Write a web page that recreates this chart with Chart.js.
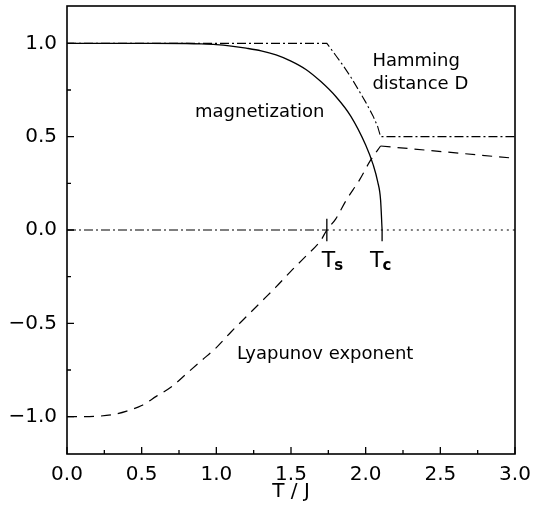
<!DOCTYPE html>
<html>
<head>
<meta charset="utf-8">
<script src="https://cdn.jsdelivr.net/npm/chart.js@4"></script>
<style>
html,body{margin:0;padding:0;background:#fff;}
#wrap{width:539px;height:510px;position:relative;}
</style>
</head>
<body>
<div id="wrap"><canvas id="c"></canvas></div>
<script>
// ---- data ----
const magT = [0, 0.5, 0.8, 0.9, 1.0, 1.1, 1.2, 1.3, 1.4, 1.5, 1.6, 1.7, 1.8, 1.9, 2.0, 2.05, 2.08, 2.1, 2.11];
const magY = [1.0, 1.0, 0.999, 0.997, 0.993, 0.985, 0.974, 0.960, 0.938, 0.905, 0.860, 0.795, 0.715, 0.61, 0.455, 0.35, 0.26, 0.16, 0.0];

const hamT = [0, 1.74, 1.80, 1.85, 1.90, 1.96, 2.00, 2.05, 2.08, 2.10, 3.0];
const hamY = [1.0, 1.0, 0.935, 0.88, 0.82, 0.74, 0.685, 0.61, 0.555, 0.50, 0.50];

const hamLowT = [0, 1.74];
const hamLowY = [0, 0];

const zeroT = [1.74, 3.0];
const zeroY = [0, 0];

const lyaT = [0, 0.1, 0.2, 0.3, 0.4, 0.5, 0.6, 0.7, 0.8, 0.9, 1.0, 1.1, 1.2, 1.3, 1.4, 1.5, 1.6, 1.7, 1.74, 1.8, 1.87, 1.96, 2.03, 2.10];
const lyaY = [-1.0, -1.0, -0.998, -0.99, -0.97, -0.94, -0.89, -0.84, -0.77, -0.70, -0.63, -0.545, -0.465, -0.385, -0.305, -0.22, -0.14, -0.055, 0.0, 0.06, 0.16, 0.27, 0.37, 0.45];
const lyaHighT = [2.10, 3.0];
const lyaHighY = [0.45, 0.384];

const Ts = 1.74;
const Tc = 2.11;

const xMajor = [0, 0.5, 1.0, 1.5, 2.0, 2.5, 3.0];
const xMinor = [0.25, 0.75, 1.25, 1.75, 2.25, 2.75];
const yMajor = [-1.0, -0.5, 0, 0.5, 1.0];
const yMinor = [-0.75, -0.25, 0.25, 0.75];

const labels = [
  {text: 'magnetization', x: 0.857, y: 0.604},
  {text: 'Hamming', x: 2.045, y: 0.879},
  {text: 'distance D', x: 2.045, y: 0.757},
  {text: 'Lyapunov exponent', x: 1.138, y: -0.693}
];
const tempLabels = [
  {main: 'T', sub: 's', x: 1.706, y: -0.2},
  {main: 'T', sub: 'c', x: 2.029, y: -0.2}
];

// ---- build ----
const pts = (xs, ys) => xs.map((x, i) => ({x: x, y: ys[i]}));
const FONT = "'DejaVu Sans', sans-serif";
const fmt = v => (v < 0 ? '\u2212' : '') + Math.abs(v).toFixed(1);

const base = {pointRadius: 0, borderColor: '#000', borderWidth: 1.3, fill: false, tension: 0};

const framePlugin = {
  id: 'frame',
  afterDraw(chart) {
    const {ctx, chartArea: a, scales: {x, y}} = chart;
    ctx.save();
    ctx.strokeStyle = '#000';
    ctx.lineWidth = 1.6;
    ctx.strokeRect(a.left, a.top, a.right - a.left, a.bottom - a.top);
    ctx.lineWidth = 1.3;
    ctx.beginPath();
    xMajor.forEach(v => { const p = x.getPixelForValue(v); ctx.moveTo(p, a.bottom); ctx.lineTo(p, a.bottom - 7); });
    xMinor.forEach(v => { const p = x.getPixelForValue(v); ctx.moveTo(p, a.bottom); ctx.lineTo(p, a.bottom - 4); });
    yMajor.forEach(v => { const p = y.getPixelForValue(v); ctx.moveTo(a.left, p); ctx.lineTo(a.left + 7, p); });
    yMinor.forEach(v => { const p = y.getPixelForValue(v); ctx.moveTo(a.left, p); ctx.lineTo(a.left + 4, p); });
    ctx.stroke();
    // text labels
    ctx.fillStyle = '#000';
    ctx.textAlign = 'left';
    ctx.textBaseline = 'alphabetic';
    ctx.font = '18px ' + FONT;
    labels.forEach(l => ctx.fillText(l.text, x.getPixelForValue(l.x), y.getPixelForValue(l.y)));
    tempLabels.forEach(l => {
      const px = x.getPixelForValue(l.x), py = y.getPixelForValue(l.y);
      ctx.font = '22px ' + FONT;
      ctx.fillText(l.main, px, py);
      const w = ctx.measureText(l.main).width;
      ctx.font = 'bold 15px ' + FONT;
      ctx.fillText(l.sub, px + w - 1, py + 3);
    });
    ctx.restore();
  }
};

new Chart(document.getElementById('c'), {
  type: 'line',
  data: {
    datasets: [
      Object.assign({}, base, {data: pts(magT, magY), cubicInterpolationMode: 'monotone'}),
      Object.assign({}, base, {data: pts(hamT, hamY), borderDash: [9, 3, 2, 3], borderWidth: 1.1}),
      Object.assign({}, base, {data: pts(hamLowT, hamLowY), borderDash: [9, 3, 2, 3], borderWidth: 1.1}),
      Object.assign({}, base, {data: pts(zeroT, zeroY), borderDash: [2, 4], borderWidth: 1.1}),
      Object.assign({}, base, {data: pts(lyaT, lyaY), borderDash: [10, 7], borderWidth: 1.2, cubicInterpolationMode: 'monotone'}),
      Object.assign({}, base, {data: pts(lyaHighT, lyaHighY), borderDash: [10, 7], borderWidth: 1.2}),
      Object.assign({}, base, {data: pts([Ts, Ts], [0.06, -0.06])}),
      Object.assign({}, base, {data: pts([Tc, Tc], [0.0, -0.06])})
    ]
  },
  options: {
    responsive: true,
    maintainAspectRatio: false,
    animation: false,
    events: [],
    layout: {padding: {top: 6, right: 24, left: 0, bottom: 0}},
    plugins: {legend: {display: false}, tooltip: {enabled: false}},
    scales: {
      x: {
        type: 'linear', min: 0, max: 3,
        grid: {display: false, drawTicks: false},
        border: {display: false},
        afterBuildTicks: s => { s.ticks = xMajor.map(v => ({value: v})); },
        afterFit: s => { s.height = 56; s.paddingLeft = 0; s.paddingRight = 0; },
        ticks: {color: '#000', font: {family: FONT, size: 20}, padding: 9, callback: v => fmt(v), maxRotation: 0, autoSkip: false},
        title: {display: true, text: 'T / J', color: '#000', font: {family: FONT, size: 20}, padding: {top: 0, bottom: 6}}
      },
      y: {
        type: 'linear', min: -1.2, max: 1.2,
        grid: {display: false, drawTicks: false},
        border: {display: false},
        afterBuildTicks: s => { s.ticks = yMajor.map(v => ({value: v})); },
        afterFit: s => { s.width = 67; s.paddingTop = 0; s.paddingBottom = 0; },
        ticks: {color: '#000', font: {family: FONT, size: 20}, padding: 10, callback: v => fmt(v), autoSkip: false}
      }
    }
  },
  plugins: [framePlugin]
});
</script>
</body>
</html>
